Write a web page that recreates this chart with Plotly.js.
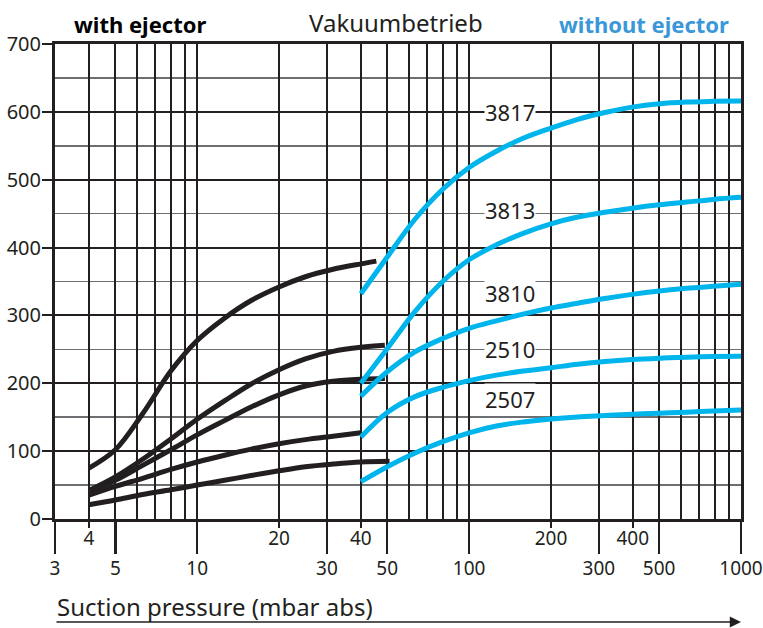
<!DOCTYPE html>
<html>
<head>
<meta charset="utf-8">
<script src="https://cdn.plot.ly/plotly-3.0.1.min.js"></script>
<style>html,body{margin:0;padding:0;background:#fff;}#chart{width:763px;height:628px;}</style>
</head>
<body>
<div id="chart"></div>
<script>
// ---- with ejector (black) ----
const ejX = [4, 5, 6.3, 8, 10, 12.6, 15.8, 20, 25, 31.6, 40];
const ej3817X = ejX.concat([45.6]);
const ej3817Y = [75, 102, 155, 218, 263, 296, 322, 342, 357, 368, 376, 380];
const ej3813X = ejX.concat([49]);
const ej3813Y = [42, 62, 88, 118, 147, 174, 199, 220, 236, 247, 253, 256];
const ej3810X = ejX.concat([49]);
const ej3810Y = [40, 57, 79, 102, 124, 145, 165, 183, 196, 203, 206, 207];
const ej2510X = ejX;
const ej2510Y = [35, 48, 60, 73, 84, 94, 103, 111, 117, 122, 127];
const ej2507X = ejX.concat([51]);
const ej2507Y = [21, 28, 36, 43, 50, 57, 64, 71, 77, 81, 84, 85];

// ---- without ejector (blue) ----
const noX = [40, 50, 63, 80, 100, 126, 158, 200, 251, 316, 398, 501, 631, 794, 1000];
const no3817Y = [332, 386, 441, 486, 518, 542, 561, 576, 589, 599, 607, 612, 614.5, 615.5, 616];
const no3813Y = [200, 251, 305, 350, 382, 404, 421, 435, 445, 452, 458, 463, 467, 471, 474];
const no3810Y = [181, 217, 246, 266, 281, 292, 302, 311, 318, 325, 331, 336, 340, 343, 346];
const no2510Y = [121, 157, 180, 194, 204, 212, 218, 223, 228, 232, 235, 237, 238.5, 239.5, 240];
const no2507Y = [55, 77, 97, 114, 127, 137, 143, 147.5, 150.5, 152.5, 154.5, 156, 157.5, 159, 160.5];

// ---- curve labels ----
const labelText = ['3817', '3813', '3810', '2510', '2507'];
const labelX = [141, 141, 141, 141, 141];
const labelY = [600, 455, 333, 250, 177];

// ---- axis ticks ----
const gridX = [3,4,5,6,7,8,9,10,20,30,40,50,60,70,80,90,100,200,300,400,500,600,700,800,900,1000];
const longTickX = [3, 5, 10, 30, 50, 100, 300, 500, 1000];
const shortTickX = [4, 20, 40, 200, 400];
const yTicks = [0, 100, 200, 300, 400, 500, 600, 700];

const BLACK = '#231f20';
const BLUE = '#00b4ec';
const FONT = 'Noto Sans, sans-serif';

function curve(x, y, color) {
  return {x: x, y: y, type: 'scatter', mode: 'lines', xaxis: 'x', yaxis: 'y',
    line: {color: color, width: 5, shape: 'spline', smoothing: 1}, hoverinfo: 'skip', showlegend: false};
}

const traces = [
  curve(ej3817X, ej3817Y, BLACK), curve(ej3813X, ej3813Y, BLACK), curve(ej3810X, ej3810Y, BLACK),
  curve(ej2510X, ej2510Y, BLACK), curve(ej2507X, ej2507Y, BLACK),
  curve(noX, no3817Y, BLUE), curve(noX, no3813Y, BLUE), curve(noX, no3810Y, BLUE),
  curve(noX, no2510Y, BLUE), curve(noX, no2507Y, BLUE),
  {x: longTickX, y: longTickX.map(() => null), xaxis: 'x2', yaxis: 'y', type: 'scatter', mode: 'lines', showlegend: false, hoverinfo: 'skip'},
  {x: shortTickX, y: shortTickX.map(() => null), xaxis: 'x3', yaxis: 'y', type: 'scatter', mode: 'lines', showlegend: false, hoverinfo: 'skip'}
];

const xr = [Math.log10(3), Math.log10(1000)];

const annotations = labelText.map((t, i) => ({
  x: Math.log10(labelX[i]), y: labelY[i], xref: 'x', yref: 'y', text: t, showarrow: false,
  xanchor: 'center', yanchor: 'middle',
  font: {family: FONT, size: 22, color: BLACK}, bgcolor: '#ffffff', borderpad: 0
}));

annotations.push(
  {xref: 'paper', yref: 'paper', x: (140 - 55) / 686, y: (519 - 24) / 475, xanchor: 'center', yanchor: 'middle',
   text: '<b>with ejector</b>', showarrow: false, font: {family: FONT, size: 22, color: '#000000'}},
  {xref: 'paper', yref: 'paper', x: (396 - 55) / 686, y: (519 - 23) / 475, xanchor: 'center', yanchor: 'middle',
   text: 'Vakuumbetrieb', showarrow: false, font: {family: FONT, size: 24, color: BLACK}},
  {xref: 'paper', yref: 'paper', x: (644 - 55) / 686, y: (519 - 24) / 475, xanchor: 'center', yanchor: 'middle',
   text: '<b>without ejector</b>', showarrow: false, font: {family: FONT, size: 22, color: '#3a97d8'}},
  {xref: 'paper', yref: 'paper', x: 0, xanchor: 'left', y: (519 - 606) / 475, yanchor: 'middle',
   text: 'Suction pressure (mbar abs)', showarrow: false, font: {family: FONT, size: 24, color: BLACK}},
  {xref: 'paper', yref: 'paper', x: 1, y: (519 - 622) / 475, text: '', showarrow: true,
   axref: 'pixel', ayref: 'pixel', ax: -686, ay: 0, arrowhead: 2, arrowsize: 1.4, arrowwidth: 1.6, arrowcolor: BLACK}
);

const layout = {
  width: 763, height: 628,
  margin: {l: 55, r: 22, t: 44, b: 109},
  paper_bgcolor: '#ffffff', plot_bgcolor: '#ffffff',
  showlegend: false, hovermode: false,
  font: {family: FONT, color: BLACK},
  xaxis: {type: 'log', range: xr, tickmode: 'array', tickvals: gridX, showticklabels: false, ticks: '',
    showgrid: true, gridcolor: BLACK, gridwidth: 2, showline: true, linecolor: BLACK, linewidth: 3, mirror: true,
    zeroline: false, fixedrange: true},
  xaxis2: {type: 'log', range: xr, overlaying: 'x', anchor: 'y', side: 'bottom', tickmode: 'array',
    tickvals: longTickX, ticktext: longTickX.map(String), ticks: 'outside', ticklen: 34, tickwidth: 2.5, tickcolor: BLACK,
    ticklabelstandoff: -2,
    showgrid: false, showline: false, zeroline: false, tickfont: {family: FONT, size: 19, color: BLACK}, fixedrange: true},
  xaxis3: {type: 'log', range: xr, overlaying: 'x', anchor: 'y', side: 'bottom', tickmode: 'array',
    tickvals: shortTickX, ticktext: shortTickX.map(String), ticks: 'outside', ticklen: 8, tickwidth: 2.5, tickcolor: BLACK,
    ticklabelstandoff: -6,
    showgrid: false, showline: false, zeroline: false, tickfont: {family: FONT, size: 19, color: BLACK}, fixedrange: true},
  yaxis: {range: [0, 700], tickmode: 'array', tickvals: yTicks, ticktext: yTicks.map(String), ticks: 'outside',
    ticklen: 10, tickwidth: 2, tickcolor: BLACK, showgrid: true, gridcolor: BLACK, gridwidth: 2,
    ticklabelstandoff: -3,
    minor: {dtick: 50, showgrid: true, gridcolor: '#6d6e71', gridwidth: 1.5, ticks: ''},
    showline: true, linecolor: BLACK, linewidth: 3, mirror: true, zeroline: false,
    tickfont: {family: FONT, size: 20, color: BLACK}, fixedrange: true},
  annotations: annotations
};

Plotly.newPlot('chart', traces, layout, {displayModeBar: false, staticPlot: true});
</script>
</body>
</html>
